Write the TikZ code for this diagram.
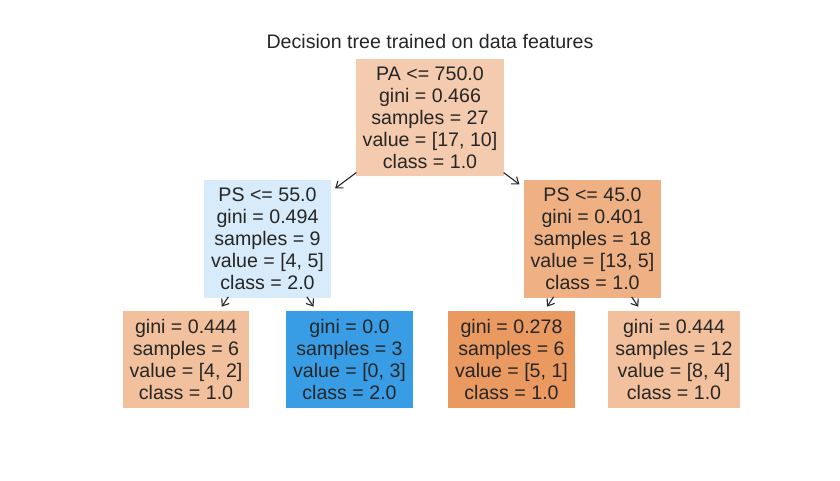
\documentclass[tikz,border=0pt]{standalone}
\usepackage{fontspec}
\setmainfont{Liberation Sans}
\usetikzlibrary{arrows.meta}
\definecolor{textgray}{HTML}{262626}
\definecolor{classA}{HTML}{E58139}
\definecolor{classB}{HTML}{399DE5}
\colorlet{colorRoot}{classA!41!white}
\colorlet{colorPSl}{classB!20!white}
\colorlet{colorPSr}{classA!62!white}
\colorlet{colorLL}{classA!50!white}
\colorlet{colorLR}{classB}
\colorlet{colorRL}{classA!80!white}
\colorlet{colorRR}{classA!50!white}
\tikzset{
   every path/.style={>={Straight Barb[length=6pt,width=9pt]}},
   leaf/.style={rectangle,align=center,text=textgray,inner xsep=7pt,inner ysep=0pt,
      minimum height=97pt,font=\fontsize{19.6}{22}\selectfont},
   split/.style={leaf,minimum height=117pt},
   edge/.style={->,color=textgray,line width=1.1pt,shorten >=5pt,shorten <=-1pt},
}

\begin{document}
\begin{tikzpicture}[x=1pt,y=1pt]
      \useasboundingbox (0,0) rectangle (840,480);
      \node[text=textgray,font=\fontsize{19.6}{22}\selectfont,anchor=base] (title) at (430,431) {Decision tree trained on data features};
      \node[split,fill=colorRoot] (pa) at (430,362.5) {PA <= 750.0\\gini = 0.466\\samples = 27\\value = [17, 10]\\class = 1.0};
      \node[split,fill=colorPSl] (psl) at (267.5,241) {PS <= 55.0\\gini = 0.494\\samples = 9\\value = [4, 5]\\class = 2.0};
      \node[split,fill=colorPSr] (psr) at (592.5,241) {PS <= 45.0\\gini = 0.401\\samples = 18\\value = [13, 5]\\class = 1.0};
      \node[leaf,fill=colorLL] (ll) at (186,120.5) {gini = 0.444\\samples = 6\\value = [4, 2]\\class = 1.0};
      \node[leaf,fill=colorLR] (lr) at (349.5,120.5) {gini = 0.0\\samples = 3\\value = [0, 3]\\class = 2.0};
      \node[leaf,fill=colorRL] (rl) at (511.5,120.5) {gini = 0.278\\samples = 6\\value = [5, 1]\\class = 1.0};
      \node[leaf,fill=colorRR] (rr) at (674,120.5) {gini = 0.444\\samples = 12\\value = [8, 4]\\class = 1.0};
      \draw[edge] (pa) -- (psl);
      \draw[edge] (pa) -- (psr);
      \draw[edge] (psl) -- (ll);
      \draw[edge] (psl) -- (lr);
      \draw[edge] (psr) -- (rl);
      \draw[edge] (psr) -- (rr);
    \end{tikzpicture}
\end{document}
